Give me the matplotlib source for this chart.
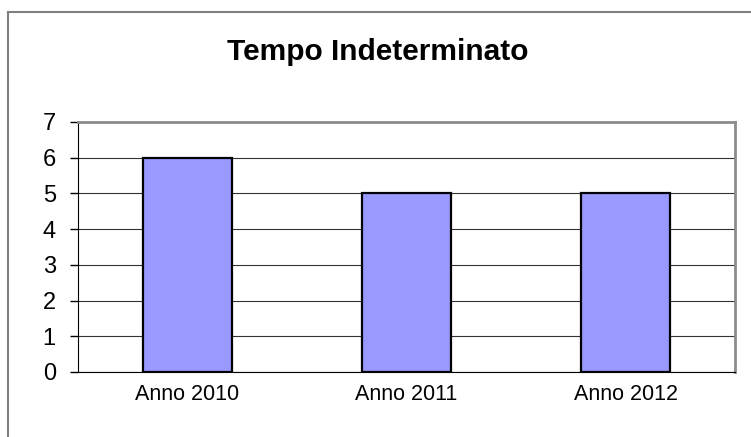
import matplotlib.pyplot as plt
from matplotlib.lines import Line2D

categorie = ['Anno 2010', 'Anno 2011', 'Anno 2012']
valori = [6, 5, 5]
titolo = 'Tempo Indeterminato'

plt.rcParams['font.family'] = ['Liberation Sans', 'DejaVu Sans']

W, H = 751, 437
fig = plt.figure(figsize=(W / 100, H / 100), dpi=100)

# bordo esterno del grafico (tagliato a destra e in basso)
fig.add_artist(Line2D([8 / W, 8 / W], [0, 1 - 12 / H], color='#7f7f7f', lw=1.5))
fig.add_artist(Line2D([8 / W, 1], [1 - 12 / H, 1 - 12 / H], color='#7f7f7f', lw=1.5))

ax = fig.add_axes([78 / W, (H - 372) / H, 657 / W, 250 / H])

x = range(len(categorie))
ax.bar(x, valori, width=0.41, color='#9999ff', edgecolor='black', linewidth=1.6, zorder=3)

ax.set_xlim(-0.5, len(categorie) - 0.5)
ax.set_ylim(0, 7)
ax.set_yticks(range(0, 8))
ax.set_xticks(list(x))
ax.set_xticklabels(categorie, fontsize=15.5)
ax.tick_params(axis='x', length=0, pad=9)
ax.tick_params(axis='y', labelsize=17, length=6, width=1, pad=10)

ax.grid(axis='y', color='#333333', linewidth=0.8, zorder=0)
for s in ['top', 'right']:
    ax.spines[s].set_color('#8c8c8c')
    ax.spines[s].set_linewidth(2)
ax.spines['left'].set_color('black')
ax.spines['bottom'].set_color('black')

fig.text(378 / W, 1 - 52 / H, titolo, ha='center', va='center', fontsize=21.5, fontweight='bold')

fig.savefig('out.png', dpi=100)
